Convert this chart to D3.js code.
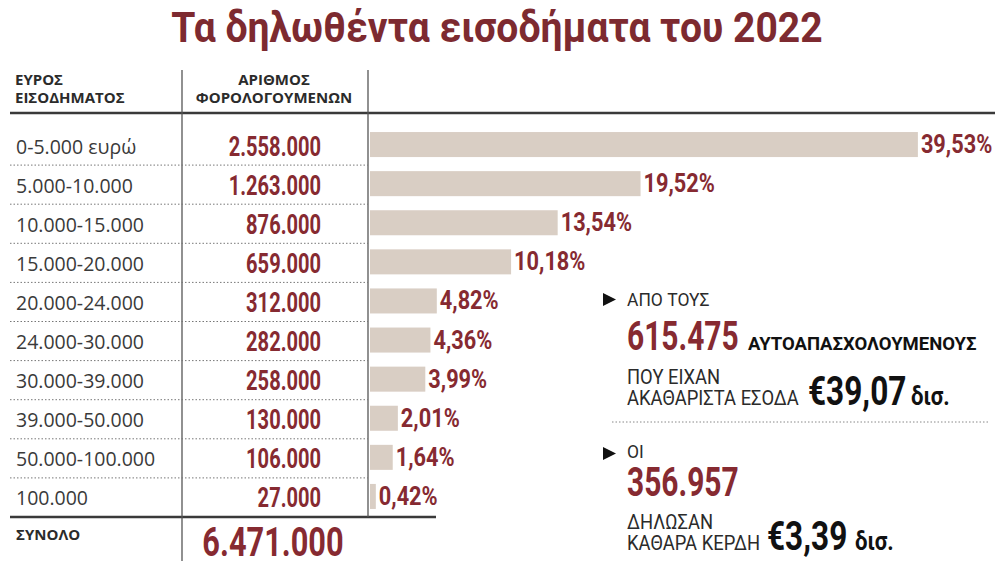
<!DOCTYPE html>
<html>
<head>
<meta charset="utf-8">
<script src="https://cdn.jsdelivr.net/npm/d3@7"></script>
<style>
  body { margin: 0; background: #fff; }
  svg { display: block; }
</style>
</head>
<body>
<svg id="chart"></svg>
<script>
// income brackets, taxpayers per bracket and share of total (%)
var ranges = ["0-5.000 ευρώ", "5.000-10.000", "10.000-15.000", "15.000-20.000", "20.000-24.000",
              "24.000-30.000", "30.000-39.000", "39.000-50.000", "50.000-100.000", "100.000"]
var taxpayers = [2558000, 1263000, 876000, 659000, 312000, 282000, 258000, 130000, 106000, 27000]
var shares = [39.53, 19.52, 13.54, 10.18, 4.82, 4.36, 3.99, 2.01, 1.64, 0.42]
var total = 6471000

// side notes
var selfEmployed = 615475
var grossIncome = 39.07
var profitDeclarers = 356957
var netProfit = 3.39

var dimensions = { width: 1006, height: 561 }

var red = "#862a31"
var dark = "#2b2b2b"

var gr = d3.formatLocale({ decimal: ",", thousands: ".", grouping: [3], currency: ["€", ""] })
var fmtInt = gr.format(",d")
var fmtPct = gr.format(".2f")

var data = ranges.map(function(r, i) {
    return { range: r, count: taxpayers[i], share: shares[i] }
})

var svg = d3.select("#chart")
            .attr("width", dimensions.width)
            .attr("height", dimensions.height)
            .style("font-family", "Roboto, sans-serif")

// rows
var yScale = d3.scaleBand()
                .domain(ranges)
                .range([126, 517])
var xScale = d3.scaleLinear()
                .domain([0, 40])
                .range([370, 370 + 40 * 13.86])

var barH = yScale.bandwidth() * 0.64

// condensed text helper (squeeze horizontally)
function ctext(g, str, x, y, sx, anchor) {
    return g.append("text")
        .attr("transform", "translate(" + x + "," + y + ") scale(" + sx + ",1)")
        .attr("text-anchor", anchor || "start")
        .text(str)
}

// title
ctext(svg, "Τα δηλωθέντα εισοδήματα του 2022", 497, 42, 0.93, "middle")
    .style("font-size", "42px").style("font-weight", 700).attr("fill", "#7d2a30")

// headers
var head = svg.append("g")
    .style("font-family", "'Open Sans', sans-serif")
    .style("font-weight", 700)
    .style("font-size", "15px")
    .attr("fill", dark)
var h1 = head.append("text").attr("x", 15).attr("y", 85)
h1.append("tspan").text("ΕΥΡΟΣ")
h1.append("tspan").attr("x", 15).attr("dy", 18).text("ΕΙΣΟΔΗΜΑΤΟΣ")
var h2 = head.append("text").attr("x", 274).attr("y", 85).attr("text-anchor", "middle")
h2.append("tspan").text("ΑΡΙΘΜΟΣ")
h2.append("tspan").attr("x", 274).attr("dy", 18).text("ΦΟΡΟΛΟΓΟΥΜΕΝΩΝ")

// grid lines
svg.append("line").attr("x1", 10).attr("x2", 995).attr("y1", 113).attr("y2", 113)
    .attr("stroke", "#3a3a3a").attr("stroke-width", 2.5)
svg.append("line").attr("x1", 10).attr("x2", 436).attr("y1", 517).attr("y2", 517)
    .attr("stroke", "#3a3a3a").attr("stroke-width", 2.5)
svg.append("line").attr("x1", 182).attr("x2", 182).attr("y1", 70).attr("y2", 561)
    .attr("stroke", "#555").attr("stroke-width", 1.3)
svg.append("line").attr("x1", 368).attr("x2", 368).attr("y1", 70).attr("y2", 517)
    .attr("stroke", "#555").attr("stroke-width", 1.3)

svg.selectAll(".sep")
    .data(ranges.slice(1))
    .enter()
    .append("line")
    .attr("class", "sep")
    .attr("x1", 10).attr("x2", 368)
    .attr("y1", d => yScale(d)).attr("y2", d => yScale(d))
    .attr("stroke", "#777").attr("stroke-width", 1)
    .attr("stroke-dasharray", "1.5,2")

// range labels
svg.selectAll(".range")
    .data(data)
    .enter()
    .append("text")
    .attr("class", "range")
    .attr("x", 16)
    .attr("y", d => yScale(d.range) + yScale.bandwidth() / 2 + 8)
    .style("font-family", "'Open Sans', sans-serif")
    .style("font-size", "19.5px")
    .attr("fill", "#3a3a3a")
    .text(d => d.range)

// taxpayer counts
var counts = svg.append("g").style("font-size", "27.5px").style("font-weight", 700).attr("fill", red)
data.forEach(function(d) {
    ctext(counts, fmtInt(d.count), 321, yScale(d.range) + yScale.bandwidth() / 2 + 10, 0.73, "end")
})

// bars
svg.selectAll(".bar")
    .data(data)
    .enter()
    .append("rect")
    .attr("class", "bar")
    .attr("x", xScale(0))
    .attr("y", d => yScale(d.range) + (yScale.bandwidth() - barH) / 2 - 1)
    .attr("width", d => xScale(d.share) - xScale(0))
    .attr("height", barH)
    .attr("fill", "#d9cec4")

var pct = svg.append("g").style("font-size", "25px").style("font-weight", 700).attr("fill", red)
data.forEach(function(d) {
    ctext(pct, fmtPct(d.share) + "%", xScale(d.share) + 3, yScale(d.range) + yScale.bandwidth() / 2 + 7.5, 0.87)
})

// total
svg.append("text").attr("x", 16).attr("y", 540)
    .style("font-family", "'Open Sans', sans-serif").style("font-weight", 700).style("font-size", "15px")
    .attr("fill", dark).text("ΣΥΝΟΛΟ")
ctext(svg, fmtInt(total), 273, 556, 0.75, "middle")
    .style("font-size", "41px").style("font-weight", 700).attr("fill", red)

// side notes
var notes = svg.append("g")
function tri(y) {
    notes.append("path").attr("d", "M603," + y + "L616," + (y + 6.5) + "L603," + (y + 13) + "Z").attr("fill", "#111")
}
function twoLines(a, b, x, y) {
    var t = notes.append("text")
        .attr("transform", "translate(" + x + "," + y + ") scale(0.92,1)")
        .style("font-size", "20px").attr("fill", dark)
    t.append("tspan").attr("x", 0).text(a)
    t.append("tspan").attr("x", 0).attr("dy", 21).text(b)
    return t
}

tri(293)
ctext(notes, "ΑΠΟ ΤΟΥΣ", 627, 306, 0.92).style("font-size", "19px").attr("fill", dark)
ctext(notes, fmtInt(selfEmployed), 627, 350, 0.73).style("font-size", "41px").style("font-weight", 700).attr("fill", red)
notes.append("text").attr("x", 748).attr("y", 350)
    .style("font-size", "18.5px").style("font-weight", 700).attr("fill", "#111")
    .text("ΑΥΤΟΑΠΑΣΧΟΛΟΥΜΕΝΟΥΣ")
twoLines("ΠΟΥ ΕΙΧΑΝ", "ΑΚΑΘΑΡΙΣΤΑ ΕΣΟΔΑ", 627, 384)
ctext(notes, "€" + fmtPct(grossIncome), 808, 405, 0.79).style("font-size", "40px").style("font-weight", 700).attr("fill", "#111")
ctext(notes, "δισ.", 911, 405, 0.85).style("font-size", "26px").style("font-weight", 700).attr("fill", "#111")

notes.append("line").attr("x1", 612).attr("x2", 988).attr("y1", 422).attr("y2", 422)
    .attr("stroke", "#888").attr("stroke-width", 1).attr("stroke-dasharray", "1.5,2")

tri(447)
ctext(notes, "ΟΙ", 627, 458, 0.92).style("font-size", "19px").attr("fill", dark)
ctext(notes, fmtInt(profitDeclarers), 627, 496, 0.73).style("font-size", "41px").style("font-weight", 700).attr("fill", red)
twoLines("ΔΗΛΩΣΑΝ", "ΚΑΘΑΡΑ ΚΕΡΔΗ", 627, 529)
ctext(notes, "€" + fmtPct(netProfit), 767, 550, 0.79).style("font-size", "40px").style("font-weight", 700).attr("fill", "#111")
ctext(notes, "δισ.", 855, 550, 0.85).style("font-size", "26px").style("font-weight", 700).attr("fill", "#111")
</script>
</body>
</html>
